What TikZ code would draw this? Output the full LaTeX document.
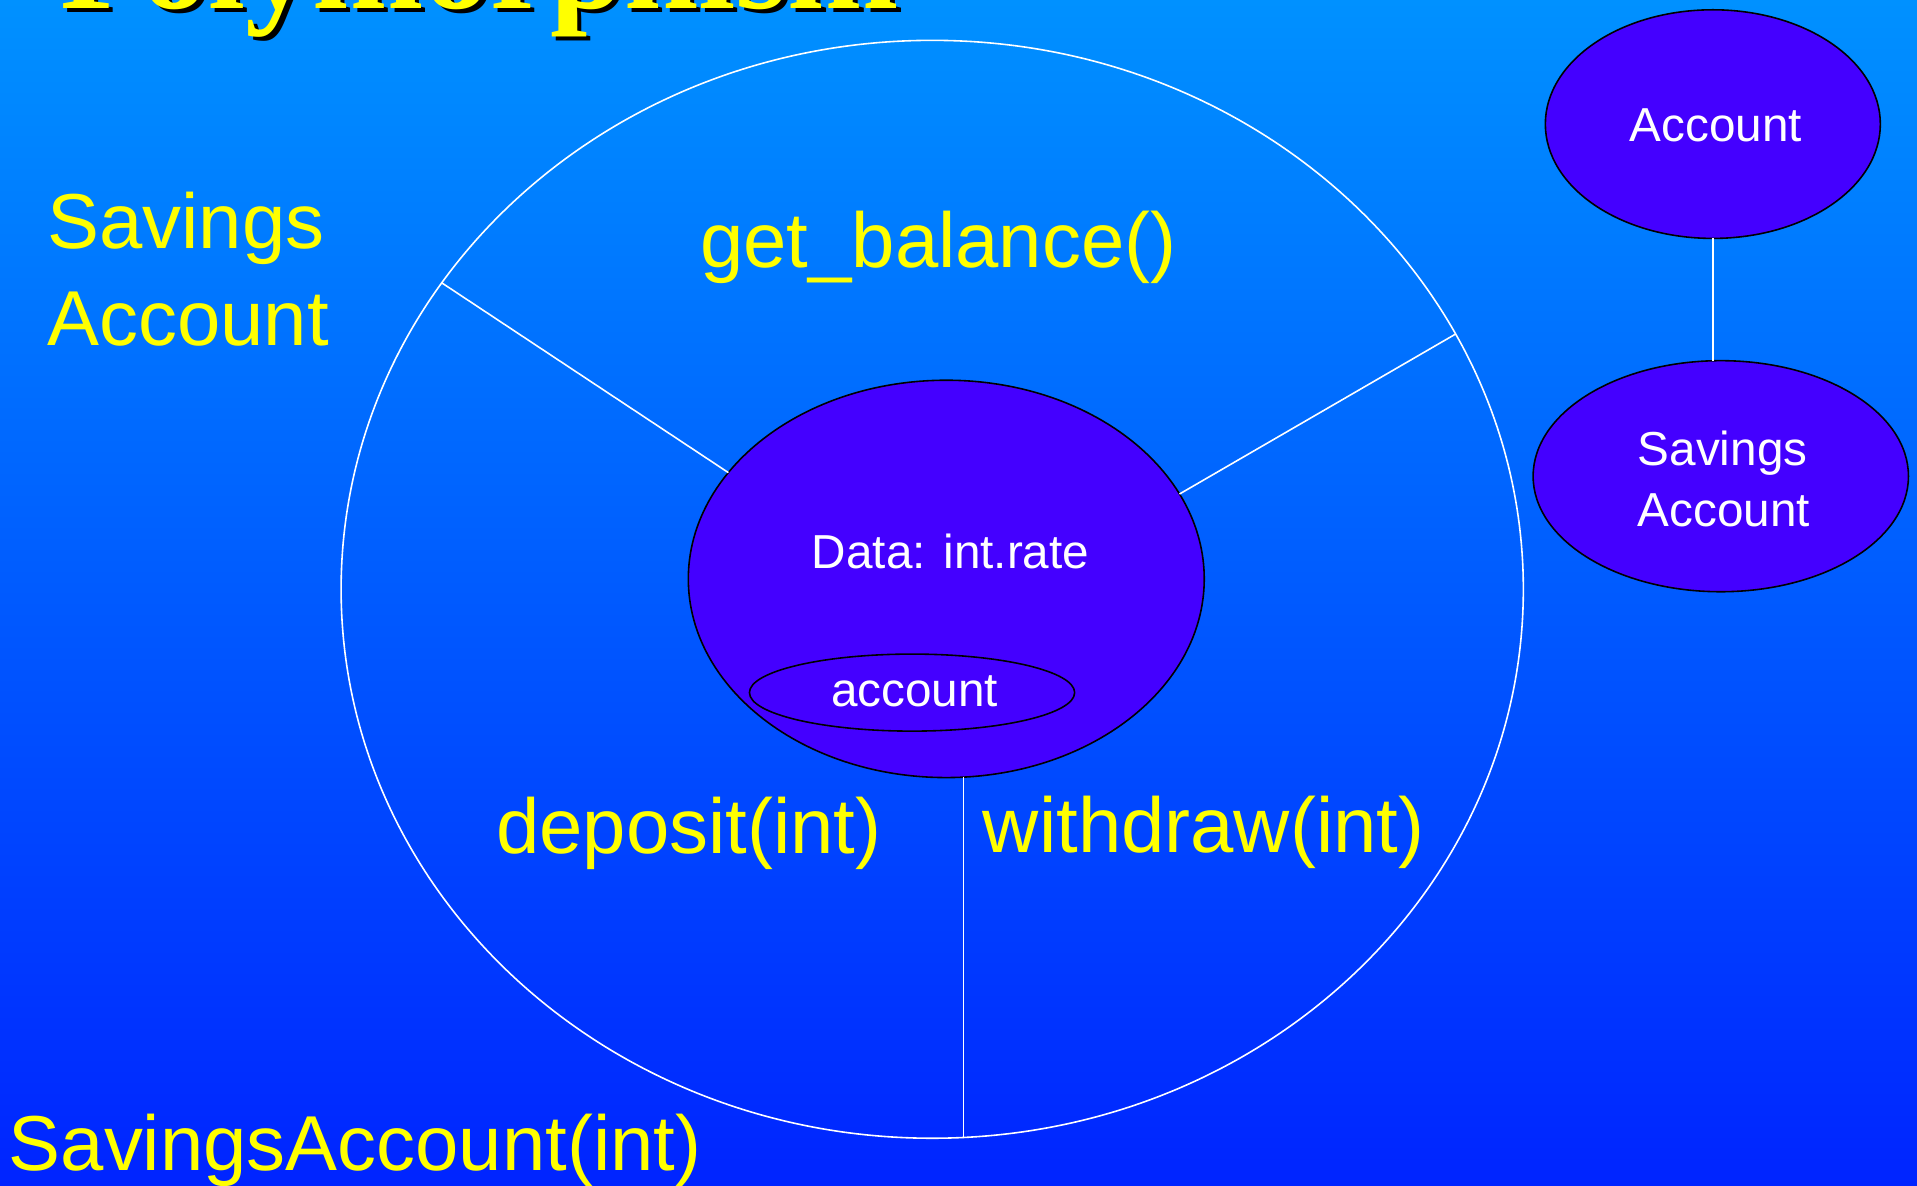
\documentclass[tikz,border=0pt]{standalone}
\usepackage{fontspec}
\setmainfont{Liberation Sans}
\newfontfamily\titlefont{Liberation Serif}
\usetikzlibrary{shapes.geometric}
\definecolor{bgtop}{RGB}{0,145,255}
\definecolor{bgbot}{RGB}{0,36,255}
\definecolor{objfill}{RGB}{68,0,255}
\definecolor{txtyellow}{RGB}{255,255,0}
\begin{document}
\begin{tikzpicture}[x=1pt,y=-1pt,
  obj/.style={ellipse, draw=black, fill=objfill, line width=1.3pt, inner sep=0pt, outer sep=0pt},
  ringstyle/.style={ellipse, draw=white, line width=1.3pt, inner sep=0pt, outer sep=0pt},
  conn/.style={draw=white, line width=1.3pt},
  biglabel/.style={text=txtyellow, inner sep=0pt, font=\fontsize{63.7}{76}\selectfont},
  smalllabel/.style={text=white, inner sep=0pt, font=\fontsize{39}{47}\selectfont},
  titletext/.style={inner sep=0pt, font=\titlefont\bfseries\fontsize{109.3}{120}\selectfont}
]
\useasboundingbox (0,0) rectangle (1568,970);
\shade[top color=bgtop, bottom color=bgbot] (0,0) rectangle (1568,970);

% title (cut off at top)
\node[titletext, text=black, anchor=base west] (titleshadow) at (52.5,10.5) {Polymorphism};
\node[titletext, text=txtyellow, anchor=base west] (title) at (49,7) {Polymorphism};

% big ring
\node[ringstyle, minimum width=967pt, minimum height=898pt] (ring) at (762.5,482) {};

% core object
\node[obj, minimum width=422pt, minimum height=325pt] (core) at (774,473.5) {};
\node[obj, minimum width=266pt, minimum height=63pt] (acct) at (746,566.5) {};
\node[smalllabel, anchor=base] (data) at (777.5,465) {Data: int.rate};
\node[smalllabel, anchor=base] (acctlbl) at (748,578) {account};

% dividing lines
\draw[conn] (ring.148.9) -- (core.154.6);
\draw[conn] (ring.26.9) -- (core.20.5);
\draw[conn] (core.-85) -- (core.-85 |- ring.south);

% method labels
\node[biglabel, anchor=base] (getbal) at (767.5,219) {get\_balance()};
\node[biglabel, anchor=base] (deposit) at (563.5,698) {deposit(int)};
\node[biglabel, anchor=base] (withdraw) at (984.5,697) {withdraw(int)};
\node[biglabel, anchor=base west] (sav1) at (38.5,203) {Savings};
\node[biglabel, anchor=base west] (sav2) at (38.5,283) {Account};
\node[biglabel, anchor=base west] (ctor) at (7,957) {SavingsAccount(int)};

% hierarchy on the right
\node[obj, minimum width=274pt, minimum height=187pt] (base) at (1401,101.5) {};
\node[obj, minimum width=307pt, minimum height=189pt] (derived) at (1407.5,389.5) {};
\node[smalllabel, anchor=base] (baselbl) at (1403.5,116) {Account};
\node[smalllabel, anchor=base] (derlbl1) at (1409,381) {Savings};
\node[smalllabel, anchor=base] (derlbl2) at (1410,431) {Account};
\draw[conn] (base.south) -- (base.south |- derived.north);
\end{tikzpicture}
\end{document}
